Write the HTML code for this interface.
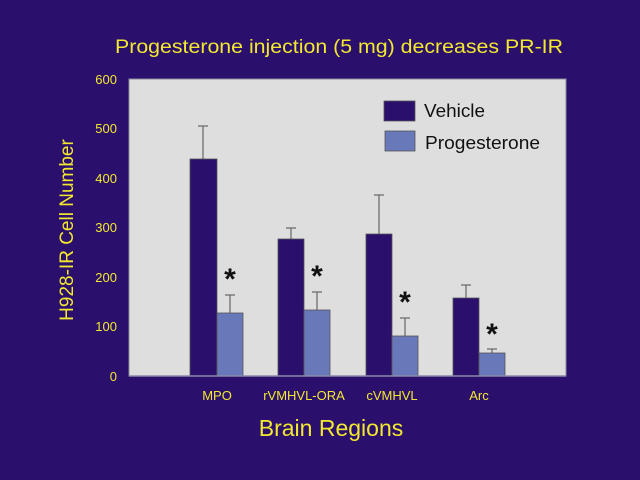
<!DOCTYPE html>
<html><head><style>html,body{margin:0;padding:0;background:#2a0f6c}svg{display:block}</style></head><body>
<svg width="640" height="480" xmlns="http://www.w3.org/2000/svg" font-family="Liberation Sans, sans-serif">
<rect width="640" height="480" fill="#2a0f6c"/>
<text x="339" y="53" fill="#f2e830" font-size="19" text-anchor="middle" textLength="448" lengthAdjust="spacingAndGlyphs">Progesterone injection (5 mg) decreases PR-IR</text>
<rect x="129" y="79" width="437" height="297" fill="#dedede" stroke="#8a8a9a" stroke-width="1"/>
<g fill="#f2e830" font-size="13" text-anchor="end">
<text x="117" y="84">600</text><text x="117" y="133">500</text><text x="117" y="183">400</text>
<text x="117" y="232">300</text><text x="117" y="282">200</text><text x="117" y="331">100</text><text x="117" y="381">0</text>
</g>
<text transform="translate(73,230) rotate(-90)" fill="#f2e830" font-size="19" text-anchor="middle">H928-IR Cell Number</text>
<g stroke="#666" stroke-width="1.2">
<line x1="203" y1="126" x2="203" y2="159"/><line x1="198" y1="126" x2="208" y2="126"/>
<line x1="230" y1="295" x2="230" y2="313"/><line x1="225" y1="295" x2="235" y2="295"/>
<line x1="291" y1="228" x2="291" y2="239"/><line x1="286" y1="228" x2="296" y2="228"/>
<line x1="317" y1="292" x2="317" y2="310"/><line x1="312" y1="292" x2="322" y2="292"/>
<line x1="379" y1="195" x2="379" y2="234"/><line x1="374" y1="195" x2="384" y2="195"/>
<line x1="405" y1="318" x2="405" y2="336"/><line x1="400" y1="318" x2="410" y2="318"/>
<line x1="466" y1="285" x2="466" y2="298"/><line x1="461" y1="285" x2="471" y2="285"/>
<line x1="492" y1="349" x2="492" y2="353"/><line x1="487" y1="349" x2="497" y2="349"/>
</g>
<g fill="#2a0f6c" stroke="#555" stroke-width="0.8">
<rect x="190" y="159" width="27" height="217"/>
<rect x="278" y="239" width="26" height="137"/>
<rect x="366" y="234" width="26" height="142"/>
<rect x="453" y="298" width="26" height="78"/>
</g>
<g fill="#6878b8" stroke="#555" stroke-width="0.8">
<rect x="217" y="313" width="26" height="63"/>
<rect x="304" y="310" width="26" height="66"/>
<rect x="392" y="336" width="26" height="40"/>
<rect x="479" y="353" width="26" height="23"/>
</g>
<line x1="129" y1="376" x2="566" y2="376" stroke="#8a8aaa" stroke-width="1.5"/>
<g font-size="30" font-weight="bold" fill="#111" text-anchor="middle">
<text x="230" y="289">*</text><text x="317" y="286">*</text><text x="405" y="312">*</text><text x="492" y="344">*</text>
</g>
<rect x="384" y="101" width="31" height="20" fill="#2a0f6c" stroke="#555" stroke-width="0.8"/>
<rect x="385" y="131" width="30" height="20" fill="#6878b8" stroke="#555" stroke-width="0.8"/>
<text x="424" y="117" font-size="18" fill="#111" textLength="61" lengthAdjust="spacingAndGlyphs">Vehicle</text>
<text x="425" y="149" font-size="18" fill="#111" textLength="115" lengthAdjust="spacingAndGlyphs">Progesterone</text>
<g fill="#f2e830" font-size="13" text-anchor="middle">
<text x="217" y="400">MPO</text><text x="304" y="400">rVMHVL-ORA</text><text x="392" y="400">cVMHVL</text><text x="479" y="400">Arc</text>
</g>
<text x="331" y="436" fill="#f2e830" font-size="23" text-anchor="middle">Brain Regions</text>
</svg>
</body></html>
